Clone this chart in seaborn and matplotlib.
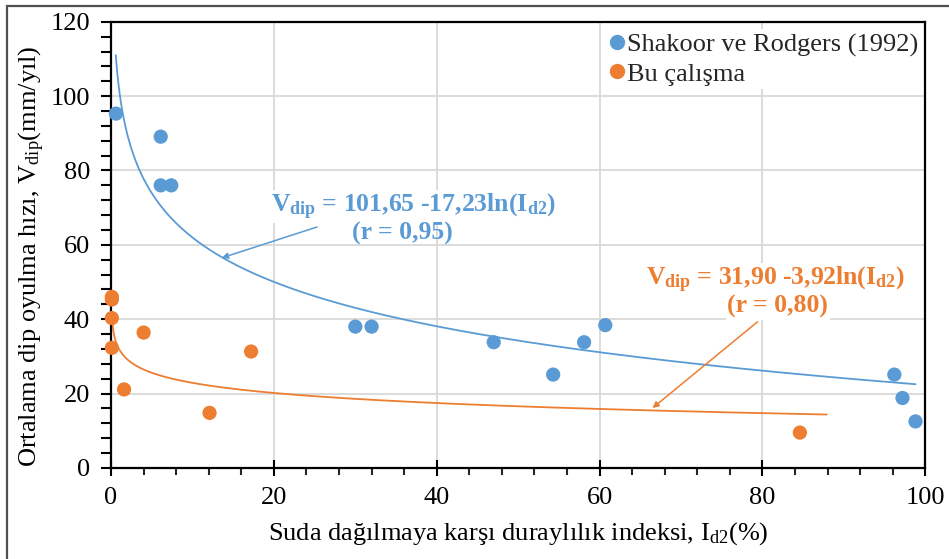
import numpy as np
import pandas as pd
import matplotlib
matplotlib.use("Agg")
import matplotlib.pyplot as plt
import matplotlib.patches as mpatches
from matplotlib.ticker import MultipleLocator
import seaborn as sns

# ── Data ──────────────────────────────────────────────────────────────────────
shakoor_x = [0.6, 6.1, 6.1, 7.4, 30.0, 32.0, 47.0, 54.3, 58.1, 60.7, 96.2, 97.2, 98.8]
shakoor_y = [95.3, 89.1, 76.0, 76.0, 38.0, 38.0, 33.8, 25.1, 33.8, 38.4, 25.1, 18.8, 12.5]
bu_x = [0.1, 0.1, 0.1, 0.1, 1.6, 4.0, 12.1, 17.2, 84.6]
bu_y = [46.0, 45.3, 40.3, 32.3, 21.1, 36.4, 14.8, 31.3, 9.5]

series_names = ["Shakoor ve Rodgers (1992)", "Bu çalışma"]

# trend lines printed on the chart: V = a - b*ln(I)
blue_a, blue_b, blue_range = 101.65, 17.23, (0.58, 98.8)
orange_a, orange_b, orange_range = 31.90, 3.92, (0.15, 87.9)

BLUE = "#5B9BD5"
ORANGE = "#ED7D31"
GRID = "#d9d9d9"
SERIF = "Liberation Serif"

sns.set_theme(style="white")
plt.rcParams["font.family"] = [SERIF, "DejaVu Serif"]
plt.rcParams["mathtext.fontset"] = "custom"
plt.rcParams["mathtext.rm"] = SERIF
plt.rcParams["mathtext.it"] = SERIF + ":italic"
plt.rcParams["mathtext.bf"] = SERIF + ":bold"

df = pd.DataFrame({
    "x": shakoor_x + bu_x,
    "y": shakoor_y + bu_y,
    "src": [series_names[0]] * len(shakoor_x) + [series_names[1]] * len(bu_x),
})

fig = plt.figure(figsize=(9.49, 5.59), dpi=100)
ax = fig.add_axes([0.117, 0.163, 0.858, 0.798])

ax.grid(True, which="major", color=GRID, linewidth=1.3)
ax.set_axisbelow(True)

# fitted curves
for a, b, (lo, hi), col in [(blue_a, blue_b, blue_range, BLUE),
                            (orange_a, orange_b, orange_range, ORANGE)]:
    xs = np.linspace(lo, hi, 600)
    ax.plot(xs, a - b * np.log(xs), color=col, linewidth=1.3, zorder=2)

sns.scatterplot(data=df, x="x", y="y", hue="src", palette=[BLUE, ORANGE],
                s=105, edgecolor="none", ax=ax, zorder=3, legend=False,
                clip_on=False)

ax.set_xlim(0, 100)
ax.set_ylim(0, 120)
ax.xaxis.set_major_locator(MultipleLocator(20))
ax.xaxis.set_minor_locator(MultipleLocator(4))
ax.yaxis.set_major_locator(MultipleLocator(20))
ax.yaxis.set_minor_locator(MultipleLocator(4))
ax.tick_params(axis="x", which="major", direction="inout", length=11, width=1.5,
               labelsize=19, pad=8, colors="black")
ax.tick_params(axis="x", which="minor", direction="out", length=5, width=1.5)
ax.tick_params(axis="y", which="both", direction="out", length=7, width=1.5,
               labelsize=19, pad=8, colors="black")
ax.tick_params(axis="x", which="both", bottom=True)
ax.tick_params(axis="y", which="both", left=True)
for sp in ax.spines.values():
    sp.set_color("black")
    sp.set_linewidth(1.6)

ax.set_xlabel(r"Suda dağılmaya karşı duraylılık indeksi, $\mathrm{I_{d2}}$(%)",
              fontsize=19, color="black", labelpad=8)
ax.set_ylabel(r"Ortalama dip oyulma hızı, $\mathrm{V_{dip}}$(mm/yıl)",
              fontsize=19, color="black")
ax.yaxis.set_label_coords(-0.079, 0.475)

# legend
handles = [plt.Line2D([], [], marker="o", linestyle="", color=c, markersize=10)
           for c in (BLUE, ORANGE)]
ax.legend(handles, series_names, loc="upper right", bbox_to_anchor=(1.0, 0.99),
          frameon=True, facecolor="white", edgecolor="none", framealpha=1,
          fontsize=19, handletextpad=0.0, labelspacing=0.2, borderpad=0.15,
          handlelength=0.8, borderaxespad=0.1)

# equations
box = dict(facecolor="white", edgecolor="none", pad=1)
ax.text(37.2, 70.3, r"$\mathbf{V_{dip}}$ = 101,65 -17,23ln($\mathbf{I_{d2}}$)",
        color=BLUE, fontsize=18.5, fontweight="bold", ha="center", va="center",
        bbox=box, zorder=4)
ax.text(35.8, 63.0, "(r = 0,95)", color=BLUE, fontsize=18.5, fontweight="bold",
        ha="center", va="center", zorder=4)
ax.text(81.6, 50.6, r"$\mathbf{V_{dip}}$ = 31,90 -3,92ln($\mathbf{I_{d2}}$)",
        color=ORANGE, fontsize=18.5, fontweight="bold", ha="center", va="center",
        bbox=box, zorder=4)
ax.text(81.9, 43.3, "(r = 0,80)", color=ORANGE, fontsize=18.5, fontweight="bold",
        ha="center", va="center", bbox=box, zorder=4)

arrow_kw = dict(arrowstyle="-|>", mutation_scale=9, linewidth=1.1, shrinkA=0, shrinkB=0)
ax.annotate("", xy=(13.6, 56.5), xytext=(25.3, 64.8),
            arrowprops=dict(color=BLUE, **arrow_kw), zorder=5)
ax.annotate("", xy=(66.5, 16.1), xytext=(79.4, 39.3),
            arrowprops=dict(color=ORANGE, **arrow_kw), zorder=5)

# outer frame (left/top visible, rest cropped)
fig.add_artist(mpatches.Rectangle((7 / 949, -0.1), 1.2, 1 - 6 / 559 + 0.1,
                                  transform=fig.transFigure, fill=False,
                                  edgecolor="#505050", linewidth=1.6, clip_on=False))

fig.savefig("out.png", dpi=100)
